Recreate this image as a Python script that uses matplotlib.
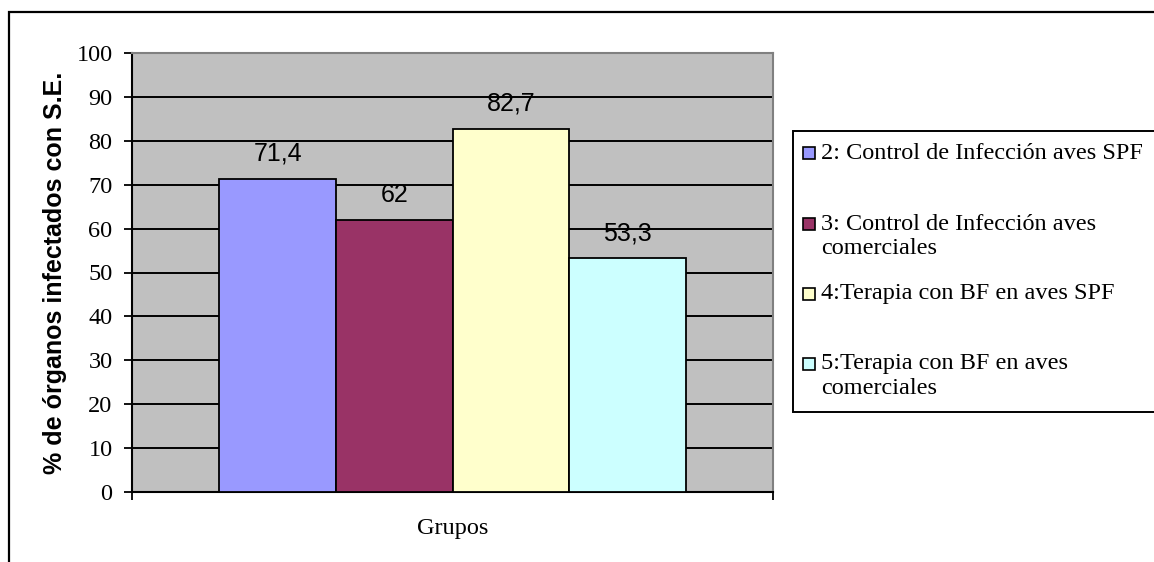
import numpy as np
import matplotlib
matplotlib.use('Agg')
import matplotlib.pyplot as plt
from matplotlib.patches import Rectangle

# porcentaje de órganos infectados por grupo
grupos = ['2: Control de Infección aves SPF',
          '3: Control de Infección aves\ncomerciales',
          '4:Terapia con BF en aves SPF',
          '5:Terapia con BF en aves\ncomerciales']
valores = [71.4, 62, 82.7, 53.3]
etiquetas = ['71,4', '62', '82,7', '53,3']
colores = ['#9999FF', '#993366', '#FFFFCC', '#CCFFFF']
yticks = [0, 10, 20, 30, 40, 50, 60, 70, 80, 90, 100]

W, H = 1154, 562
SERIF = 'Liberation Serif'
SANS = 'Liberation Sans'
FS = 17.5


def px(x, y):
    '''pixel (origin top-left) -> figure fraction'''
    return x / W, 1 - y / H


fig = plt.figure(figsize=(W / 100, H / 100), dpi=100)
fig.patch.set_facecolor('white')

# marco exterior del gráfico
x0, y0 = px(9, 12)
fig.add_artist(Rectangle((x0, -0.2), 1.5, y0 + 0.2, transform=fig.transFigure,
                         fill=False, edgecolor='black', lw=1.6))

ax = fig.add_axes([132 / W, 1 - 492 / H, 641 / W, 439 / H])
ax.set_facecolor('#C0C0C0')

n = len(valores)
pos = np.arange(n)
ax.bar(pos, valores, width=1.0, color=colores, edgecolor='black', lw=1.3, zorder=3)

for p, v, t in zip(pos, valores, etiquetas):
    ax.annotate(t, (p, v), xytext=(0, 18), textcoords='offset points',
                ha='center', va='center', fontsize=18, family=SANS, zorder=4)

span = n / 0.727
lo, hi = (n - 1) / 2 - span / 2, (n - 1) / 2 + span / 2
ax.set_xlim(lo, hi)
ax.set_ylim(0, 100)

ax.set_yticks(yticks)
ax.set_yticklabels([str(t) for t in yticks], family=SERIF, fontsize=FS)
ax.set_xticks([lo, hi])
ax.set_xticklabels(['', ''])
ax.tick_params(axis='both', direction='out', length=6, width=1.3, color='black', pad=8)

ax.yaxis.grid(True, color='black', lw=1.4, zorder=1)
ax.set_axisbelow(True)

for s in ['left', 'bottom']:
    ax.spines[s].set_color('black')
    ax.spines[s].set_linewidth(1.5)
for s in ['top', 'right']:
    ax.spines[s].set_color('#808080')
    ax.spines[s].set_linewidth(1.5)

ax.set_ylabel('% de órganos infectados con S.E.', family=SANS, fontsize=18,
              fontweight='bold')
ax.yaxis.set_label_coords(-0.101, 0.5)
ax.set_xlabel('Grupos', family=SERIF, fontsize=FS)
ax.xaxis.set_label_coords(0.5, -0.059)

# leyenda
lx, ly = px(793, 131)
_, lb = px(0, 412)
fig.add_artist(Rectangle((lx, lb), 1.0, ly - lb, transform=fig.transFigure,
                         facecolor='white', edgecolor='black', lw=1.4))
entry_y = [153, 224, 294, 364]
sq = 12
for g, c, ey in zip(grupos, colores, entry_y):
    sx, sy = px(803, ey + sq / 2)
    fig.add_artist(Rectangle((sx, sy), sq / W, sq / H, transform=fig.transFigure,
                             facecolor=c, edgecolor='black', lw=1.2))
    for i, line in enumerate(g.split('\n')):
        tx, ty = px(821, ey + i * 24)
        fig.text(tx, ty, line, family=SERIF, fontsize=FS, ha='left', va='center')

fig.savefig('out.png', dpi=100)
